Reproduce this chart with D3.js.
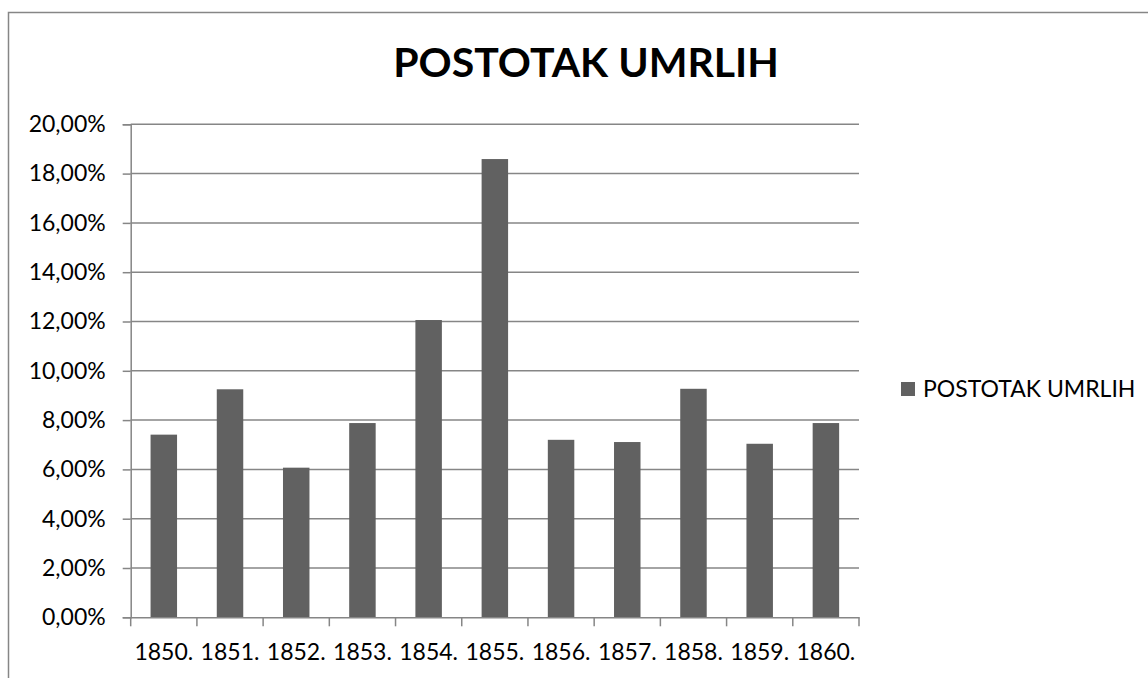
<!DOCTYPE html>
<html>
<head>
<meta charset="utf-8">
<script src="https://cdn.jsdelivr.net/npm/d3@7/dist/d3.min.js"></script>
<style>
  html, body { margin: 0; padding: 0; background: #fff; }
  svg { display: block; }
  text { font-family: Lato, "Open Sans", sans-serif; fill: #000; }
</style>
</head>
<body>
<svg id="chart" width="1148" height="678"></svg>
<script>
const chartTitle = "POSTOTAK UMRLIH";
const seriesName = "POSTOTAK UMRLIH";
const categories = ["1850.", "1851.", "1852.", "1853.", "1854.", "1855.", "1856.", "1857.", "1858.", "1859.", "1860."];
const values = [7.41, 9.25, 6.07, 7.88, 12.06, 18.59, 7.20, 7.11, 9.27, 7.04, 7.88];
const yTicks = [0, 2, 4, 6, 8, 10, 12, 14, 16, 18, 20];

const svg = d3.select("#chart");
const gray = "#868686";
const barColor = "#616161";

// outer chart frame (extends beyond viewport)
svg.append("rect")
  .attr("x", 8.5).attr("y", 12.5)
  .attr("width", 1300).attr("height", 900)
  .attr("fill", "#fff").attr("stroke", gray).attr("stroke-width", 1.5);

const plot = { left: 130.7, right: 859, top: 124.3, bottom: 617.3 };

const x = d3.scaleBand().domain(categories).range([plot.left, plot.right]).paddingInner(0.6).paddingOuter(0.3);
const xb = d3.scaleBand().domain(categories).range([plot.left, plot.right]);
const y = d3.scaleLinear().domain([0, 20]).range([plot.bottom, plot.top]);

// gridlines
svg.append("g").selectAll("line").data(yTicks.filter(d => d > 0)).join("line")
  .attr("x1", plot.left).attr("x2", plot.right)
  .attr("y1", d => y(d)).attr("y2", d => y(d))
  .attr("stroke", gray).attr("stroke-width", 1.5);

// bars
svg.append("g").selectAll("rect").data(values).join("rect")
  .attr("x", (d, i) => x(categories[i]))
  .attr("width", x.bandwidth())
  .attr("y", d => y(d))
  .attr("height", d => plot.bottom - y(d))
  .attr("fill", barColor);

// y axis
const fmt = d => d.toFixed(2).replace(".", ",") + "%";
const yAxis = svg.append("g").attr("transform", `translate(${plot.left},0)`)
  .call(d3.axisLeft(y).tickValues(yTicks).tickFormat(fmt).tickSize(8).tickPadding(17));
yAxis.select(".domain").attr("stroke", gray).attr("stroke-width", 1.5);
yAxis.selectAll(".tick line").attr("stroke", gray).attr("stroke-width", 1.5);
yAxis.selectAll(".tick text").attr("font-size", 23).attr("font-family", "Lato").attr("fill", "#000");

// x axis
const xAxis = svg.append("g").attr("transform", `translate(0,${plot.bottom})`)
  .call(d3.axisBottom(xb).tickSize(0).tickPadding(26));
xAxis.select(".domain").attr("stroke", gray).attr("stroke-width", 1.5);
xAxis.selectAll(".tick text").attr("font-size", 23).attr("font-family", "Lato").attr("fill", "#000");
// tick marks at band boundaries
const bounds = categories.map(c => xb(c)).concat([plot.right]);
svg.append("g").selectAll("line").data(bounds).join("line")
  .attr("x1", d => d).attr("x2", d => d)
  .attr("y1", plot.bottom).attr("y2", plot.bottom + 9)
  .attr("stroke", gray).attr("stroke-width", 1.5);

// title
svg.append("text")
  .attr("x", 586).attr("y", 77)
  .attr("text-anchor", "middle")
  .attr("font-size", 41).attr("font-weight", "bold")
  .text(chartTitle);

// legend
const lg = svg.append("g").attr("transform", "translate(901,382)");
lg.append("rect").attr("width", 14).attr("height", 14).attr("fill", barColor);
lg.append("text").attr("x", 22).attr("y", 15).attr("font-size", 23).text(seriesName);
</script>
</body>
</html>
